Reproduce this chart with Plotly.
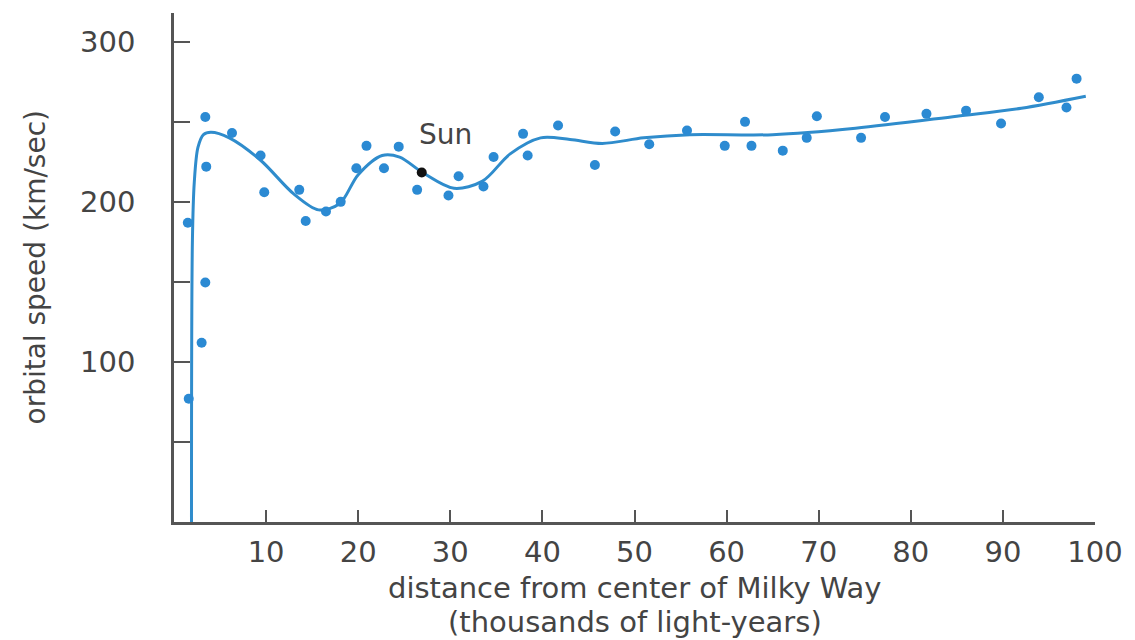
import plotly.graph_objects as go

# Measured orbital speeds (thousands of light-years, km/sec)
dist_kly = [1.5, 1.6, 3.0, 3.4, 3.5, 3.4, 6.3, 9.4, 9.8, 13.6, 14.3, 16.5, 18.1, 19.8,
            20.9, 22.8, 24.4, 26.4, 29.8, 30.9, 33.6, 34.7, 37.9, 38.4, 41.7, 45.7,
            47.9, 51.6, 55.7, 59.8, 62.0, 62.7, 66.1, 68.7, 69.8, 74.6, 77.2, 81.7,
            86.0, 89.8, 93.9, 96.9, 98.0]
speed_kms = [187, 77, 112, 149.6, 222, 253, 243, 229, 206, 207.5, 188, 194, 200, 221,
             235, 221, 234.5, 207.5, 204, 216, 209.6, 228, 242.5, 229, 247.7, 223,
             244, 236, 244.6, 235, 250, 235, 232, 240, 253.5, 240, 253, 255,
             257, 249, 265.4, 259, 277]

# Rotation curve through the measurements
curve_x = [1.9, 2.0, 2.2, 2.6, 3.2, 4.0, 6.0, 9.4, 13.0, 15.7, 18.0, 20.0, 22.6, 24.5,
           27.0, 30.4, 33.5, 36.5, 39.8, 43.0, 46.5, 51.0, 56.0, 65.0, 74.0, 85.0,
           92.0, 99.0]
curve_y = [0, 176, 212, 234, 242, 243.5, 240, 226, 205, 195, 199, 217, 229, 228,
           218.3, 208.5, 213, 230, 240, 239, 236.5, 240, 242, 242, 246, 253.5,
           258.5, 266]

# The Sun's position on the curve
sun_x = [26.9]
sun_y = [218.3]
sun_label = "Sun"

x_tickvals = [10, 20, 30, 40, 50, 60, 70, 80, 90, 100]
x_ticktext = ["10", "20", "30", "40", "50", "60", "70", "80", "90", "100"]
y_tickvals = [50, 100, 150, 200, 250, 300]
y_ticktext = ["", "100", "", "200", "", "300"]

x_title_lines = ["distance from center of Milky Way", "(thousands of light-years)"]
y_title = "orbital speed (km/sec)"

BLUE = "#2b8ad3"
LINE_BLUE = "#2f8ccc"
AXIS = "#555555"
TEXT = "#444444"
FONT = "DejaVu Sans"

fig = go.Figure()

fig.add_trace(go.Scatter(
    x=curve_x, y=curve_y, mode="lines",
    line=dict(color=LINE_BLUE, width=3, shape="spline", smoothing=0.9),
    hoverinfo="skip", showlegend=False,
))
fig.add_trace(go.Scatter(
    x=dist_kly, y=speed_kms, mode="markers",
    marker=dict(color=BLUE, size=10, line=dict(width=0)),
    showlegend=False,
))
fig.add_trace(go.Scatter(
    x=sun_x, y=sun_y, mode="markers",
    marker=dict(color="#111111", size=10, line=dict(width=0)),
    showlegend=False,
))

fig.add_annotation(
    x=sun_x[0] + 2.6, y=sun_y[0] + 24, xref="x", yref="y",
    text=sun_label, showarrow=False,
    font=dict(family=FONT, size=28, color=TEXT),
)

# Two-line x-axis title
for line_text, shift in zip(x_title_lines, (-66, -100)):
    fig.add_annotation(
        x=0.5, y=0, xref="paper", yref="paper", yanchor="middle",
        yshift=shift, text=line_text, showarrow=False, borderpad=0,
        font=dict(family=FONT, size=29, color=TEXT),
    )

# Rotated y-axis title
fig.add_annotation(
    x=0, y=0.5, xref="paper", yref="paper", xanchor="center",
    xshift=-139, text=y_title, textangle=-90, showarrow=False,
    font=dict(family=FONT, size=28, color=TEXT),
)

fig.update_xaxes(
    range=[0, 100], tickvals=x_tickvals, ticktext=x_ticktext,
    ticks="inside", ticklen=12, tickwidth=2, tickcolor=AXIS,
    showline=True, linecolor=AXIS, linewidth=2.5,
    showgrid=False, zeroline=False,
    tickfont=dict(family=FONT, size=29, color=TEXT),
    ticklabelstandoff=2,
)
fig.update_yaxes(
    range=[0, 318], tickvals=y_tickvals, ticktext=y_ticktext,
    ticks="inside", ticklen=16, tickwidth=2, tickcolor=AXIS,
    showline=True, linecolor=AXIS, linewidth=2.5,
    showgrid=False, zeroline=False,
    tickfont=dict(family=FONT, size=29, color=TEXT),
    ticklabelstandoff=30,
)

fig.update_layout(
    width=1135, height=640,
    margin=dict(l=174, r=38, t=13, b=118),
    paper_bgcolor="white", plot_bgcolor="white",
    font=dict(family=FONT, color=TEXT),
)

fig.write_html("out.html")
